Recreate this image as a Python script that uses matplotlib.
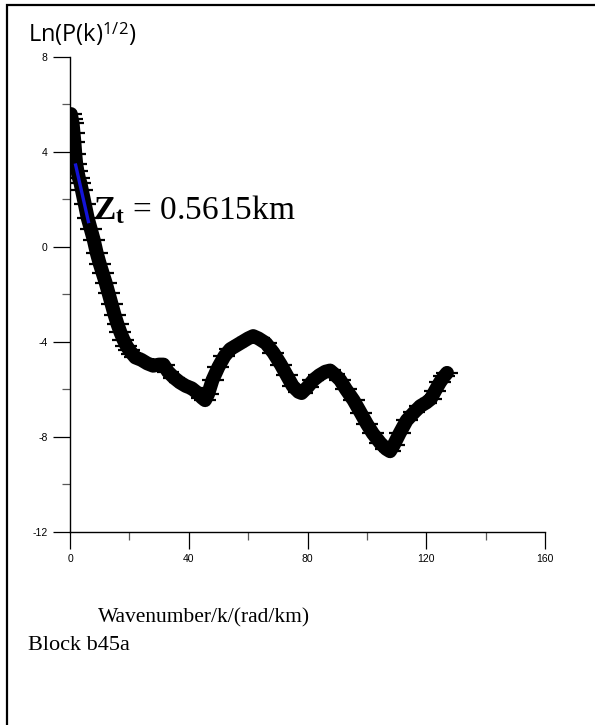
import matplotlib
matplotlib.use("Agg")
import matplotlib.pyplot as plt
from matplotlib.patches import Rectangle
from matplotlib.ticker import MultipleLocator

plt.rcParams['mathtext.fontset'] = 'custom'
plt.rcParams['mathtext.rm'] = 'Liberation Serif'
plt.rcParams['mathtext.bf'] = 'Liberation Serif:bold'
plt.rcParams['mathtext.it'] = 'Liberation Serif:italic'
plt.rcParams['axes.unicode_minus'] = False

# ---- data ----
k = [0.3, 0.6, 0.9, 1.2, 1.5, 1.8, 2.1, 2.5, 3.0, 3.5, 4.0, 5.0, 6.0, 7.0, 8.0,
     9.0, 10, 11, 12, 13, 14, 15, 16, 17, 18, 19, 20, 21, 22, 24, 26, 28, 30,
     31.5, 33, 35, 37, 39, 41, 43, 44.5, 45.5, 46.5, 48, 50, 52, 54, 56, 58, 60,
     61.7, 63.5, 66, 68.5, 71, 73, 75, 77, 78, 80, 82, 84, 86, 87.6, 89, 91, 93,
     95.5, 98, 100, 102, 104.5, 106.5, 107.8, 109, 111, 113.4, 116, 118, 120,
     121.5, 123, 124.6, 126, 127]
lnp = [5.6, 5.4, 5.2, 4.8, 4.4, 3.9, 3.5, 3.2, 2.9, 2.7, 2.4, 1.8, 1.2, 0.75, 0.3,
       -0.25, -0.7, -1.1, -1.5, -1.95, -2.4, -2.85, -3.25, -3.6, -3.9, -4.15, -4.35,
       -4.5, -4.65, -4.75, -4.9, -5.0, -4.95, -4.95, -5.25, -5.5, -5.7, -5.85, -5.95,
       -6.15, -6.35, -6.45, -6.2, -5.6, -5.05, -4.6, -4.3, -4.15, -4.0, -3.85, -3.75,
       -3.85, -4.05, -4.45, -4.95, -5.4, -5.85, -6.1, -6.15, -5.9, -5.6, -5.4, -5.25,
       -5.2, -5.35, -5.6, -6.0, -6.45, -7.0, -7.45, -7.85, -8.25, -8.5, -8.6, -8.35,
       -7.85, -7.3, -6.95, -6.7, -6.55, -6.4, -6.05, -5.7, -5.45, -5.3]
fit_k = [1.9, 6.2]
fit_y = [3.45, 1.07]

xticks = [0, 40, 80, 120, 160]
yticks = [8, 4, 0, -4, -8, -12]

W, H = 595, 725
fig = plt.figure(figsize=(W / 100, H / 100), dpi=100)

# outer frame (top and left edges visible)
fig.patches.append(Rectangle((7 / W, -0.2), 1.5, 1.2 - 5 / H,
                             transform=fig.transFigure, fill=False,
                             edgecolor='black', linewidth=1.6))

ax = fig.add_axes([70 / W, 1 - 532 / H, (545 - 70) / W, (532 - 57) / H])
ax.set_xlim(0, 160)
ax.set_ylim(-12, 8)

ax.plot(k, lnp, color='black', linewidth=10, solid_joinstyle='round',
        solid_capstyle='round', marker='_', markersize=16, markeredgewidth=1.6,
        zorder=2)
ax.plot(fit_k, fit_y, color='#1414d8', linewidth=2.4, zorder=3)

for s in ['top', 'right']:
    ax.spines[s].set_visible(False)
ax.spines['left'].set_linewidth(1.0)
ax.spines['bottom'].set_linewidth(1.0)

ax.set_xticks(xticks)
ax.set_yticks(yticks)
ax.xaxis.set_minor_locator(MultipleLocator(20))
ax.yaxis.set_minor_locator(MultipleLocator(2))
ax.tick_params(which='major', direction='out', length=12, width=0.9,
               labelsize=7.5, pad=4)
ax.tick_params(which='minor', direction='out', length=6, width=0.9,
               color='0.35')
for lab in ax.get_xticklabels() + ax.get_yticklabels():
    lab.set_fontfamily('Liberation Sans')

# y title
fig.text(28 / W, 1 - 34 / H, r'Ln(P(k)$^{\mathregular{1/2}}$)',
         fontsize=17, family='Open Sans', va='center', ha='left')

# annotation
fig.text(93 / W, 1 - 210 / H, r'$\mathbf{Z_t}$ = 0.5615km', fontsize=24,
         family='Liberation Serif', va='center', ha='left')

fig.text(98 / W, 1 - 618 / H, 'Wavenumber/k/(rad/km)', fontsize=15.5,
         family='Liberation Serif', va='center', ha='left')
fig.text(28 / W, 1 - 645 / H, 'Block b45a', fontsize=16,
         family='Liberation Serif', va='center', ha='left')

fig.savefig('out.png', dpi=100)
